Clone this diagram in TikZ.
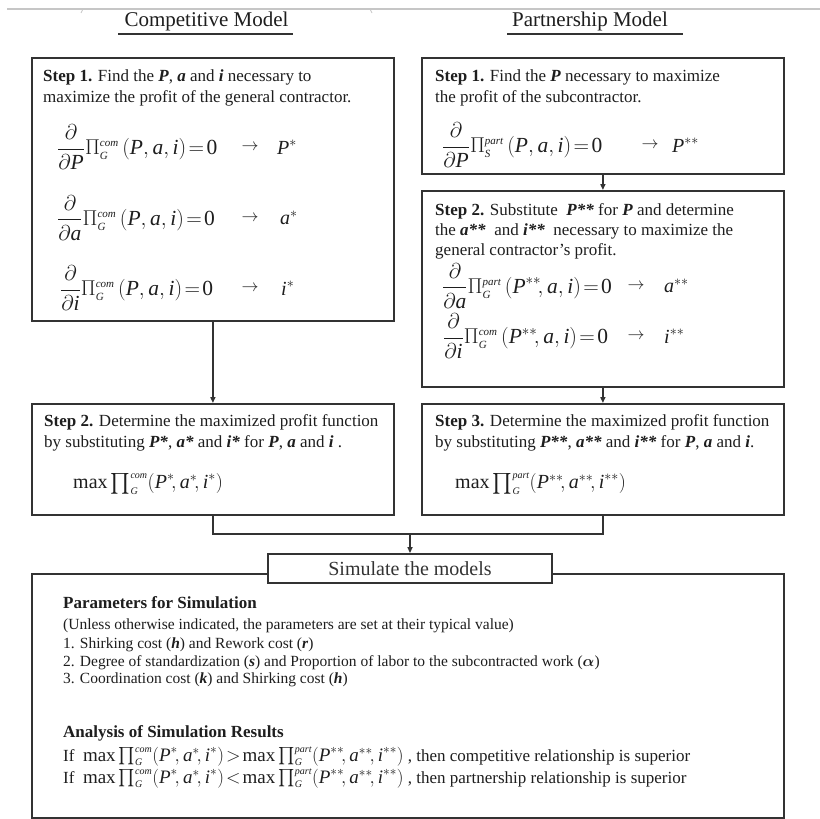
\RequirePackage{fix-cm}
\documentclass[tikz,border=0pt]{standalone}
\usepackage{amsmath}
\usepackage{fontspec}
\setmainfont{Liberation Serif}
\usetikzlibrary{arrows.meta,calc}
\definecolor{ink}{HTML}{1E1E1E}
\definecolor{lc}{HTML}{333333}
\newcommand\mi[1]{\text{\normalfont\itshape #1}}
\newcommand\bi[1]{\textbf{\textit{#1}}}
\newcommand\pd[1]{\dfrac{\partial}{\partial\mi{#1}}}
\newcommand\labA[1]{\mbox{\fontsize{11}{11}\selectfont\itshape #1}}
\newcommand\labB[1]{\mbox{\fontsize{10}{10}\selectfont\itshape #1}}
\newcommand\PiG[2]{\Pi^{\labA{#1}}_{\labA{#2}}}
\newcommand\prodG[2]{{\textstyle\prod\nolimits^{\labB{#1}}_{\labB{#2}}}}
\newcommand\zero{\text{\normalfont 0}}
\newcommand\cmpsize{\fontsize{19}{22}\selectfont}
\begin{document}
\begin{tikzpicture}[x=1pt,y=1pt,
  txt/.style={anchor=base west, inner sep=0, font=\fontsize{17}{21}\selectfont, text=ink},
  btxt/.style={anchor=base west, inner sep=0, font=\fontsize{15.5}{18}\selectfont, text=ink},
  htxt/.style={anchor=base west, inner sep=0, font=\fontsize{17}{20}\selectfont, text=ink},
  eq/.style={anchor=west, inner sep=0, font=\fontsize{21.5}{25}\selectfont, text=ink},
  meq/.style={anchor=west, inner sep=0, font=\fontsize{20}{23}\selectfont, text=ink},
  res/.style={anchor=west, inner sep=0, font=\fontsize{20}{24}\selectfont, text=ink},
  earr/.style={inner sep=0, font=\fontsize{17}{20}\selectfont, text=ink},
  title/.style={inner sep=0, font=\fontsize{21}{24}\selectfont, text=ink},
  box/.style={draw=lc, line width=1.8pt, inner sep=0, anchor=north west, minimum width=362pt},
  conn/.style={draw=lc, line width=2pt},
  arr/.style={conn, -{Triangle[length=6pt,width=5pt]}},
  uline/.style={draw=lc, line width=2.6pt}
]
\useasboundingbox (0,0) rectangle (820,-819);
\fill[white] (0,0) rectangle (820,-819);
% page edge line at top
\draw[gray!45, line width=1.2pt] (7,-9) -- (820,-9);
\draw[gray!45, line width=0.8pt] (83,-9) -- (81,-13);
\draw[gray!45, line width=0.8pt] (370,-9) -- (372,-13);

% titles
\node[title] (ct) at (206.5,-21) {Competitive Model};
\node[title] (pt) at (590,-21) {Partnership Model};
\coordinate (cu1) at (118,-34); \coordinate (cu2) at (293,-34);
\coordinate (pu1) at (507,-34); \coordinate (pu2) at (683,-34);
\draw[uline] (cu1) -- (cu2);
\draw[uline] (pu1) -- (pu2);

% boxes
\node[box, minimum height=263pt] (c1) at (31,-57) {};
\node[box, minimum height=111pt] (c2) at (31,-403) {};
\node[box, minimum height=116pt] (r1) at (421,-57) {};
\node[box, minimum height=196pt] (r2) at (421,-190) {};
\node[box, minimum height=111pt] (r3) at (421,-403) {};
\node[box, minimum width=752pt, minimum height=244pt] (big) at (31,-573) {};
\node[draw=lc, line width=1.8pt, fill=white, minimum width=284pt, minimum height=29pt, inner sep=0,
      font=\fontsize{20}{24}\selectfont, text=black!80] (sim) at (410,-568.5) {Simulate the models};

% connectors
\draw[arr] (c1.south) -- (c2.north);
\draw[arr] (r1.south) -- (r2.north);
\draw[arr] (r2.south) -- (r3.north);
\coordinate (m) at (410,-534);
\draw[conn] (c2.south) |- (m);
\draw[conn] (r3.south) |- (m);
\draw[arr] (m) -- (sim.north);

% competitive step 1
\node[txt] (c1a) at (43,-81) {\textbf{Step 1.} Find the \bi{P}, \bi{a} and \bi{i} necessary to};
\node[txt] (c1b) at (43,-102) {maximize the profit of the general contractor.};
\node[eq] (ce1) at (57,-147) {$\pd{P}\PiG{com}{G}\,(\mi{P},\mi{a},\mi{i})\!=\!\zero$};
\node[earr] (ca1) at (250,-147) {$\rightarrow$};
\node[res] (cr1) at (277,-147) {$\mi{P}^{*}$};
\node[eq] (ce2) at (57,-218) {$\pd{a}\PiG{com}{G}\,(\mi{P},\mi{a},\mi{i})\!=\!\zero$};
\node[earr] (ca2) at (250,-218) {$\rightarrow$};
\node[res] (cr2) at (280,-218) {$\mi{a}^{*}$};
\node[eq] (ce3) at (60,-288) {$\pd{i}\PiG{com}{G}\,(\mi{P},\mi{a},\mi{i})\!=\!\zero$};
\node[earr] (ca3) at (250,-288) {$\rightarrow$};
\node[res] (cr3) at (281,-288) {$\mi{i}^{*}$};

% competitive step 2
\node[txt] (c2a) at (44,-426) {\textbf{Step 2.} Determine the maximized profit function};
\node[txt] (c2b) at (44,-447) {by substituting \bi{P*}, \bi{a*} and \bi{i*} for \bi{P}, \bi{a} and \bi{i} .};
\node[meq] (c2e) at (73,-484) {$\max\prodG{com}{G}(\mi{P}^{*}\!,\mi{a}^{*}\!,\mi{i}^{*})$};

% partnership step 1
\node[txt] (r1a) at (435,-81) {\textbf{Step 1.} Find the \bi{P} necessary to maximize};
\node[txt] (r1b) at (435,-102) {the profit of the subcontractor.};
\node[eq] (re1) at (442,-145) {$\pd{P}\PiG{part}{S}\,(\mi{P},\mi{a},\mi{i})\!=\!\zero$};
\node[earr] (ra1) at (650,-145) {$\rightarrow$};
\node[res] (rr1) at (672,-145) {$\mi{P}^{**}$};

% partnership step 2
\node[txt] (r2a) at (435,-215) {\textbf{Step 2.} Substitute \ \bi{P**} for \bi{P} and determine};
\node[txt] (r2b) at (435,-235) {the \bi{a**} \ and \bi{i**} \ necessary to maximize the};
\node[txt] (r2c) at (435,-255) {general contractor's profit.};
\node[eq] (re2) at (442,-286) {$\pd{a}\PiG{part}{G}\,(\mi{P}^{**}\!,\mi{a},\mi{i})\!=\!\zero$};
\node[earr] (ra2) at (636,-286) {$\rightarrow$};
\node[res] (rr2) at (664,-286) {$\mi{a}^{**}$};
\node[eq] (re3) at (443,-336) {$\pd{i}\PiG{com}{G}\,(\mi{P}^{**}\!,\mi{a},\mi{i})\!=\!\zero$};
\node[earr] (ra3) at (636,-336) {$\rightarrow$};
\node[res] (rr3) at (664,-336) {$\mi{i}^{**}$};

% partnership step 3
\node[txt] (r3a) at (435,-426) {\textbf{Step 3.} Determine the maximized profit function};
\node[txt] (r3b) at (435,-447) {by substituting \bi{P**}, \bi{a**} and \bi{i**} for \bi{P}, \bi{a} and \bi{i}.};
\node[meq] (r3e) at (455,-484) {$\max\prodG{part}{G}(\mi{P}^{**}\!,\mi{a}^{**}\!,\mi{i}^{**})$};

% simulation box contents
\node[htxt] (s1) at (63,-608) {\textbf{Parameters for Simulation}};
\node[btxt] (s2) at (63,-629) {(Unless otherwise indicated, the parameters are set at their typical value)};
\node[btxt] (s3) at (63,-648) {1. Shirking cost (\bi{h}) and Rework cost (\bi{r})};
\node[btxt] (s4) at (63,-666) {2. Degree of standardization (\bi{s}) and Proportion of labor to the subcontracted work ($\boldsymbol{\alpha}$)};
\node[btxt] (s5) at (63,-683) {3. Coordination cost (\bi{k}) and Shirking cost (\bi{h})};
\node[htxt] (s6) at (63,-737) {\textbf{Analysis of Simulation Results}};
\node[htxt] (s7) at (63,-761) {If \ {\cmpsize$\max\prodG{com}{G}(\mi{P}^{*}\!,\mi{a}^{*}\!,\mi{i}^{*})\!>\!\max\prodG{part}{G}(\mi{P}^{**}\!,\mi{a}^{**}\!,\mi{i}^{**})$} , then competitive relationship is superior};
\node[htxt] (s8) at (63,-783) {If \ {\cmpsize$\max\prodG{com}{G}(\mi{P}^{*}\!,\mi{a}^{*}\!,\mi{i}^{*})\!<\!\max\prodG{part}{G}(\mi{P}^{**}\!,\mi{a}^{**}\!,\mi{i}^{**})$} , then partnership relationship is superior};
\end{tikzpicture}
\end{document}
